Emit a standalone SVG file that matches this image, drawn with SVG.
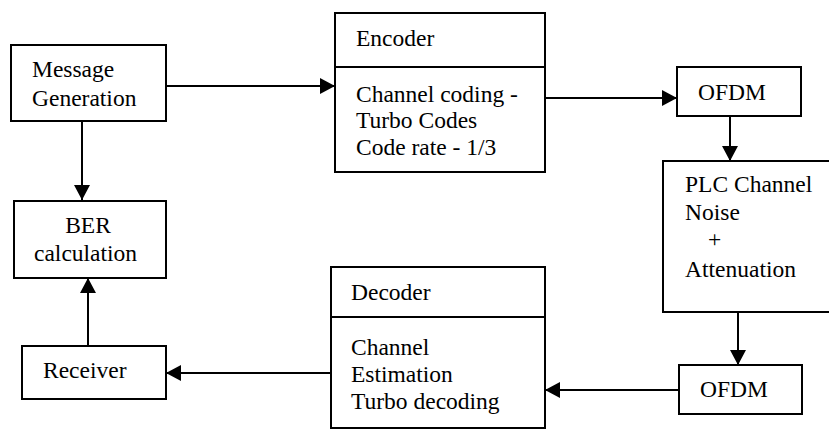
<svg xmlns="http://www.w3.org/2000/svg" width="829" height="429" viewBox="0 0 829 429">
<defs>
<marker id="ah" markerWidth="16" markerHeight="16" refX="15" refY="8" orient="auto" markerUnits="userSpaceOnUse">
<path d="M0,0 L15,8 L0,16 Z" fill="#000"/>
</marker>
<style>
.box{fill:#fff;stroke:#000;stroke-width:2}
.ln{fill:none;stroke:#000;stroke-width:2}
.t{font-family:'Liberation Serif','Times New Roman',serif;font-size:23.5px;fill:#000}
.c{stroke:#000;stroke-width:2;fill:none;marker-end:url(#ah)}
</style>
</defs>
<rect width="829" height="429" fill="#fff"/>
<g id="connectors">
<line class="c" x1="166" y1="86" x2="335" y2="86"/>
<line class="c" x1="545" y1="98" x2="677" y2="98"/>
<line class="c" x1="730" y1="116" x2="730" y2="161"/>
<line class="c" x1="738" y1="312" x2="738" y2="365"/>
<line class="c" x1="679" y1="390" x2="545" y2="390"/>
<line class="c" x1="331" y1="373" x2="166" y2="373"/>
<line class="c" x1="88" y1="346" x2="88" y2="278"/>
<line class="c" x1="82" y1="121" x2="82" y2="200"/>
</g>
<g id="message">
<rect class="box" x="11" y="45" width="155" height="76"/>
<text class="t" x="32" y="77">Message</text>
<text class="t" x="32" y="106">Generation</text>
</g>
<g id="encoder">
<rect class="box" x="335" y="13" width="210" height="159"/>
<line class="ln" x1="335" y1="67" x2="545" y2="67"/>
<text class="t" x="356" y="46">Encoder</text>
<text class="t" x="356" y="102">Channel coding -</text>
<text class="t" x="356" y="128">Turbo Codes</text>
<text class="t" x="356" y="155">Code rate - 1/3</text>
</g>
<g id="ofdm1">
<rect class="box" x="677" y="67" width="124" height="49"/>
<text class="t" x="698" y="100">OFDM</text>
</g>
<g id="plc">
<rect class="box" x="663" y="161" width="170" height="151"/>
<text class="t" x="685" y="192">PLC Channel</text>
<text class="t" x="685" y="220">Noise</text>
<text class="t" x="708" y="247">+</text>
<text class="t" x="685" y="277">Attenuation</text>
</g>
<g id="ofdm2">
<rect class="box" x="679" y="365" width="123" height="49"/>
<text class="t" x="700" y="397">OFDM</text>
</g>
<g id="decoder">
<rect class="box" x="331" y="267" width="214" height="161"/>
<line class="ln" x1="331" y1="317" x2="545" y2="317"/>
<text class="t" x="351" y="300">Decoder</text>
<text class="t" x="351" y="355">Channel</text>
<text class="t" x="351" y="382">Estimation</text>
<text class="t" x="351" y="409">Turbo decoding</text>
</g>
<g id="receiver">
<rect class="box" x="22" y="346" width="144" height="53"/>
<text class="t" x="43" y="378">Receiver</text>
</g>
<g id="ber">
<rect class="box" x="14" y="201" width="152" height="77"/>
<text class="t" x="88" y="233" text-anchor="middle">BER</text>
<text class="t" x="34" y="261">calculation</text>
</g>
</svg>
